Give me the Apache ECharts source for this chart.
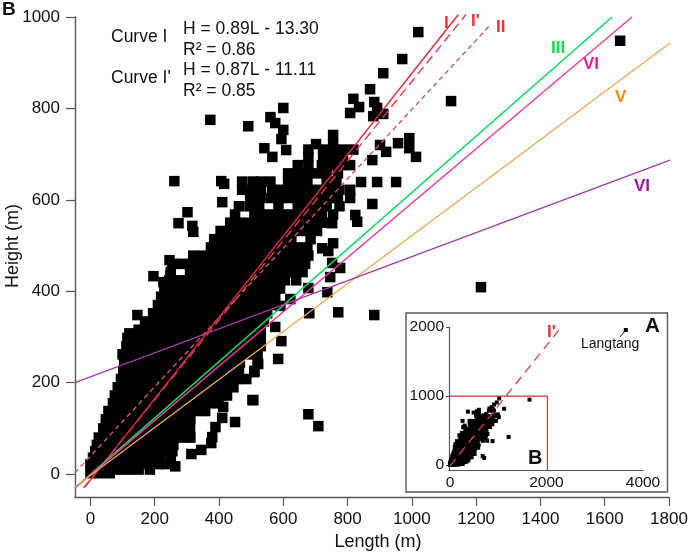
<!DOCTYPE html>
<html><head><meta charset="utf-8">
<style>html,body{margin:0;padding:0;background:#fff}#c{width:688px;height:552px}</style>
<script src="https://cdn.jsdelivr.net/npm/echarts@6/dist/echarts.min.js"></script>
</head><body><div id="c"></div>
<script>
// tick labels
const mainXTicks=[0,200,400,600,800,1000,1200,1400,1600,1800];
const mainYTicks=[0,200,400,600,800,1000];
const insetXTicks=[0,2000,4000];
const insetYTicks=[0,1000,2000];
// dense cloud, read row by row: [height, lengths in that row]
const denseRows=[
[2,[0,30,60]],
[10,[60,90,120,150,185]],
[22,[0,30,60,90,120,150,180,210,235]],
[36,[8,38,68,98,128,158,188,218,250]],
[50,[15,45,75,105,135,165,195,225,255]],
[64,[20,50,80,110,140,170,200,230,258]],
[80,[26,56,86,116,146,176,206,236,266,296,311]],
[100,[40,70,100,130,160,190,220,250,280,310]],
[120,[48,78,108,138,168,198,228,258,288,311]],
[138,[56,86,116,146,176,206,236,266,296,326,357]],
[155,[70,100,130,160,190,220,250,280,310,340,370,398]],
[172,[76,106,136,166,196,226,256,286,316,346,376,406,425]],
[190,[85,115,145,175,205,235,265,295,325,355,385,415,445]],
[208,[95,125,155,185,215,245,275,305,335,365,395,425,455,485]],
[226,[102,132,162,192,222,252,282,312,342,372,402,432,462,510]],
[244,[105,135,165,195,225,255,285,315,345,375,405,435,465,520]],
[262,[100,130,160,190,220,250,280,310,340,370,400,430,460,490,520]],
[280,[112,142,172,202,232,262,292,322,352,382,412,442,472,502,530]],
[298,[115,145,175,205,235,265,295,325,355,385,415,445,475,505,530]],
[316,[150,180,210,240,270,300,330,360,390,420,450,480,510,530]],
[334,[170,200,230,260,290,320,350,380,410,440,470,500,530,540]],
[352,[195,225,255,285,315,345,375,405,435,465,495,525,550]],
[370,[210,240,270,300,330,360,390,420,450,480,510,540,565]],
[388,[220,250,280,310,340,370,400,430,460,490,520,550,575]],
[406,[230,260,290,320,350,380,410,440,470,500,530,560,590]],
[424,[245,275,305,335,365,395,425,455,485,515,545,575,605,640]],
[442,[250,310,340,370,400,430,460,490,520,550,580,610,640,660]],
[460,[255,285,315,345,375,405,435,465,495,525,555,585,615,645,668]],
[478,[320,350,380,410,440,470,500,530,560,590,620,650,678]],
[496,[375,405,435,465,495,525,555,585,615,645,675]],
[514,[385,415,445,475,505,535,565,595,625,685]],
[532,[405,435,465,495,525,555,585,615,645,675,705]],
[550,[435,465,495,525,555,585,615,645,675,705,735]],
[568,[450,510,540,570,600,630,660,690,720,755]],
[586,[462,495,525,585,645,675,705,735,775]],
[604,[497,528,560,590,620,650,680,710,740,770,808]],
[622,[472,500,530,565,595,625,655,685,715,745,775,808]],
[640,[472,505,530,560,615,645,675,735,765]],
[658,[615,645,675,705,735,770]],
[676,[645,678,720,750,780,808]],
[694,[678,724,755,786]],
[710,[678,724,755,786,818]],
[722,[702,755]],
[742,[755]]
];
// isolated points: [length, height]
const sparsePoints=[
[264,17],[314,44],[345,53],[376,68],[379,81],[389,103],[410,123],[413,147],[450,114],[504,162],
[507,162],[510,223],[522,241],[519,276],[584,252],[594,291],[575,322],[591,368],[622,383],[681,352],
[771,354],[883,348],[678,407],[737,398],[746,431],[777,451],[752,462],[740,488],[721,494],[755,505],
[752,549],[830,552],[824,567],[877,591],[842,639],[892,639],[951,639],[877,687],[901,720],[920,705],
[957,724],[992,735],[992,713],[1013,694],[808,790],[818,821],[836,803],[870,842],[883,814],[892,801],
[880,783],[911,788],[911,877],[970,908],[1020,967],[1122,816],[1648,948],[1215,409],[678,131],[709,105],
[373,775],[491,761],[560,781],[575,768],[600,801],[600,753],[594,733],[541,713],[566,694],[609,709],
[261,641],[407,641],[416,635],[410,595],[302,573],[274,549],[317,543],[320,530],[146,348],[121,308],
[196,433],[227,420],[246,468],[249,435]
];
const langtangPoint=[[3643,1957]];
const langtangLeader=[[3643,1957],[3520,1854]];
// regression and reference lines: two end points, [length, height]
const curveI=[[-18,-29],[1144,1005]];
const curveIprime=[[-22,-30],[1168,1005]];
const curveII=[[-48,3],[1243,982]];
const curveIII=[[-48,-30],[1623,1000]];
const curveVIpink=[[-48,-30],[1685,1000]];
const curveV=[[-48,-28],[1803,943]];
const curveVIpurple=[[-48,200],[1803,687]];
const insetCurve=[[0,-11],[2309,2000]];
const insetBox=[[0,1000],[2020,1000],[2020,-70]];

const points=sparsePoints.slice();
denseRows.forEach(([h,ls])=>ls.forEach(l=>points.push([l,h])));

const sans='"Liberation Sans",Arial,sans-serif';
const axisCol='#555';
const plain=v=>String(v);
function axis(name,min,max,ticks,extra){
  return Object.assign({type:'value',min,max,name,nameLocation:'middle',nameMoveOverlap:false,
    splitLine:{show:false},
    axisLine:{show:true,onZero:false,lineStyle:{color:axisCol,width:1.4}},
    axisTick:{show:true,length:9,customValues:ticks,lineStyle:{color:axisCol,width:1.2}},
    axisLabel:{customValues:ticks,formatter:plain,color:'#111',fontFamily:sans,fontSize:17,margin:14},
    nameTextStyle:{color:'#111',fontFamily:sans,fontSize:18}},extra||{});
}
function line(data,color,width,dash,xi,opts){
  return Object.assign({type:'line',data,xAxisIndex:xi||0,yAxisIndex:xi||0,symbol:'none',animation:false,silent:true,
    clip:false,lineStyle:{color,width,type:dash||'solid'}},opts||{});
}
function label(text,x,y,fill,size,weight){
  return {type:'text',x,y,z:20,style:{text,fill,font:(weight||'normal')+' '+size+'px '+sans,textAlign:'left',textVerticalAlign:'middle'}};
}
const chart=echarts.init(document.getElementById('c'),null,{renderer:'canvas'});
chart.setOption({
  animation:false,backgroundColor:'#fff',
  grid:[
    {left:75,right:19,top:17,bottom:55,outerBoundsMode:'none'},
    {left:449,right:45,top:327,bottom:82,z:10,outerBoundsMode:'none'}
  ],
  xAxis:[
    axis('Length (m)',-48,1800,mainXTicks,{nameGap:36,nameTextStyle:{color:'#111',fontFamily:sans,fontSize:18,padding:[0,0,0,12]}}),
    axis('',-20,4000,insetXTicks,{gridIndex:1,z:10,
      axisLine:{show:true,onZero:false,lineStyle:{color:axisCol,width:1.2}},
      axisTick:{show:false},
      axisLabel:{customValues:insetXTicks,formatter:plain,color:'#111',fontFamily:sans,fontSize:15.5,margin:5}})
  ],
  yAxis:[
    axis('Height (m)',-50,1000,mainYTicks,{nameGap:53,nameTextStyle:{color:'#111',fontFamily:sans,fontSize:18,padding:[0,0,0,22]},
      axisLabel:{customValues:mainYTicks,formatter:plain,color:'#111',fontFamily:sans,fontSize:17,margin:15}}),
    axis('',-70,2000,insetYTicks,{gridIndex:1,z:10,
      axisLine:{show:true,onZero:false,lineStyle:{color:axisCol,width:1.2}},
      axisTick:{show:true,length:3,customValues:insetYTicks,lineStyle:{color:axisCol}},
      axisLabel:{customValues:insetYTicks,formatter:plain,color:'#111',fontFamily:sans,fontSize:15.5,margin:5}})
  ],
  graphic:[
    {type:'rect',z:-1,zlevel:0,shape:{x:406,y:313,width:261.5,height:179},style:{fill:'#fff',stroke:axisCol,lineWidth:1.4}},
    label('B',2,10,'#111',19,'bold'),
    label('Curve I',111,37,'#111',17.5),
    label("Curve I'",111,78,'#111',17.5),
    label('H = 0.89L - 13.30',183,29,'#111',17.5),
    label('R² = 0.86',183,50,'#111',17.5),
    label('H = 0.87L - 11.11',183,70,'#111',17.5),
    label('R² = 0.85',183,91,'#111',17.5),
    label('I',444,23,'#e8323c',17,'bold'),
    label("I'",471,21,'#e8323c',17,'bold'),
    label('II',496,27,'#f03030',17,'bold'),
    label('III',551,48,'#10e050',17,'bold'),
    label('VI',583,64,'#f0208c',17,'bold'),
    label('V',615,97,'#f58a10',17,'bold'),
    label('VI',634,186,'#a010a8',17,'bold'),
    label("I'",547,332,'#e8323c',17,'bold'),
    label('A',645,326,'#111',20.5,'bold'),
    label('B',528,458,'#111',20,'bold'),
    label('Langtang',581,344,'#111',14)
  ],
  series:[
    {type:'scatter',data:points,symbol:'rect',symbolSize:10.5,itemStyle:{color:'#000',opacity:1},animation:false,silent:true},
    line(curveII,'#c85a70',1.4,[5,3.5]),
    line(curveIprime,'#e03a50',1.4,[9,5]),
    line(curveI,'#e02a3a',1.4),
    line(curveIII,'#10d860',1.6),
    line(curveVIpink,'#ea3c9c',1.4),
    line(curveV,'#eda858',1.4),
    line(curveVIpurple,'#a838a8',1.4),
    {type:'scatter',xAxisIndex:1,yAxisIndex:1,data:points,symbol:'rect',symbolSize:4,itemStyle:{color:'#000',opacity:1},animation:false,silent:true,z:11},
    {type:'scatter',xAxisIndex:1,yAxisIndex:1,data:langtangPoint,symbol:'rect',symbolSize:4,itemStyle:{color:'#000',opacity:1},animation:false,silent:true,z:11},
    line(langtangLeader,'#111',1,'solid',1,{z:11}),
    line(insetCurve,'#e03a50',1.3,[9,6],1,{z:12}),
    line(insetBox,'#e0303c',1.2,'solid',1,{z:12})
  ]
});
</script></body></html>
